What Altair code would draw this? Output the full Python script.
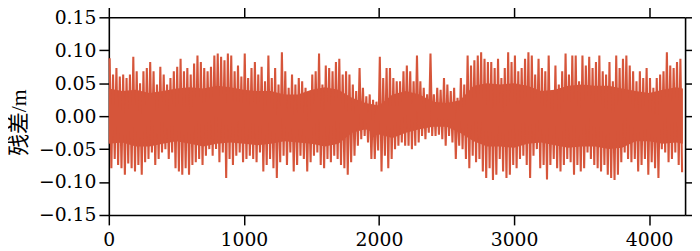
import altair as alt
import pandas as pd

# ---- data ----
# spike envelope, one hi/lo pair per 25-epoch bin
bin_width = 25
x_max = 4266

hi = [
    0.088, 0.063, 0.073, 0.060, 0.063, 0.058, 0.063, 0.090, 0.068, 0.050,
    0.068, 0.073, 0.082, 0.068, 0.048, 0.075, 0.063, 0.048, 0.058, 0.068,
    0.075, 0.087, 0.068, 0.073, 0.063, 0.080, 0.092, 0.082, 0.073,
    0.068, 0.075, 0.092, 0.095, 0.090, 0.085, 0.095, 0.092, 0.068, 0.077,
    0.060, 0.095, 0.058, 0.073, 0.082, 0.063, 0.075, 0.053, 0.092, 0.058,
    0.073, 0.048, 0.097, 0.068, 0.043, 0.063, 0.048, 0.058, 0.053,
    0.043, 0.038, 0.063, 0.068, 0.095, 0.048, 0.077, 0.073, 0.068, 0.082,
    0.087, 0.063, 0.068, 0.063, 0.048, 0.038, 0.073, 0.043, 0.030, 0.033,
    0.025, 0.022, 0.090, 0.058, 0.073, 0.073, 0.058, 0.053,
    0.053, 0.068, 0.077, 0.068, 0.053, 0.092, 0.053, 0.043, 0.033, 0.095,
    0.033, 0.043, 0.040, 0.058, 0.048, 0.038, 0.043, 0.028, 0.058, 0.048,
    0.092, 0.077, 0.085, 0.092, 0.097, 0.087, 0.082, 0.082, 0.073,
    0.087, 0.058, 0.073, 0.097, 0.082, 0.092, 0.068, 0.073, 0.087, 0.097,
    0.092, 0.063, 0.087, 0.073, 0.068, 0.092, 0.038, 0.077, 0.048, 0.068,
    0.095, 0.063, 0.092, 0.092, 0.053, 0.092, 0.077, 0.090,
    0.073, 0.082, 0.092, 0.068, 0.063, 0.082, 0.053, 0.092, 0.073, 0.087,
    0.092, 0.077, 0.068, 0.053, 0.068, 0.058, 0.073, 0.058, 0.043, 0.058,
    0.063, 0.068, 0.097, 0.077, 0.073, 0.082, 0.087,
]

lo = [
    -0.079, -0.065, -0.074, -0.079, -0.089, -0.072, -0.079, -0.084, -0.074, -0.089,
    -0.070, -0.065, -0.055, -0.074, -0.065, -0.055, -0.050, -0.065, -0.055, -0.079,
    -0.084, -0.089, -0.079, -0.089, -0.074, -0.070, -0.065, -0.074, -0.060,
    -0.050, -0.060, -0.050, -0.070, -0.055, -0.094, -0.065, -0.074, -0.060, -0.055,
    -0.070, -0.065, -0.060, -0.065, -0.070, -0.055, -0.084, -0.074, -0.065, -0.079,
    -0.094, -0.070, -0.060, -0.074, -0.055, -0.084, -0.074, -0.060, -0.065,
    -0.084, -0.070, -0.060, -0.055, -0.074, -0.079, -0.065, -0.070, -0.060, -0.065,
    -0.074, -0.079, -0.089, -0.070, -0.060, -0.045, -0.035, -0.030, -0.040, -0.065,
    -0.065, -0.052, -0.084, -0.060, -0.079, -0.065, -0.050, -0.045,
    -0.040, -0.045, -0.045, -0.050, -0.045, -0.040, -0.030, -0.035, -0.025, -0.030,
    -0.030, -0.028, -0.035, -0.045, -0.030, -0.040, -0.065, -0.045, -0.050, -0.065,
    -0.079, -0.060, -0.070, -0.065, -0.084, -0.094, -0.079, -0.097, -0.089,
    -0.065, -0.084, -0.094, -0.089, -0.074, -0.079, -0.065, -0.060, -0.074, -0.094,
    -0.060, -0.050, -0.079, -0.074, -0.096, -0.074, -0.065, -0.079, -0.084, -0.074,
    -0.065, -0.070, -0.089, -0.074, -0.084, -0.079, -0.055, -0.065,
    -0.074, -0.079, -0.084, -0.074, -0.089, -0.094, -0.097, -0.089, -0.070, -0.055,
    -0.065, -0.070, -0.065, -0.084, -0.074, -0.065, -0.089, -0.070, -0.079, -0.094,
    -0.050, -0.055, -0.070, -0.065, -0.055, -0.074, -0.085,
]

# dense (solid-looking) core of the residual band, every 100 epochs
core_t = [0, 100, 200, 300, 400, 500, 600, 700, 800, 900, 1000, 1100, 1200,
          1300, 1400, 1500, 1600, 1700, 1800, 1900, 2000, 2100, 2200, 2300,
          2400, 2500, 2600, 2700, 2800, 2900, 3000, 3100, 3200, 3300, 3400,
          3500, 3600, 3700, 3800, 3900, 4000, 4100, 4200, 4250]
core_hi = [0.042, 0.038, 0.040, 0.035, 0.038, 0.042, 0.044, 0.042, 0.046, 0.044,
           0.040, 0.038, 0.038, 0.033, 0.033, 0.040, 0.044, 0.040, 0.028, 0.020,
           0.016, 0.033, 0.038, 0.033, 0.022, 0.020, 0.024, 0.046, 0.050, 0.048,
           0.050, 0.046, 0.038, 0.040, 0.046, 0.048, 0.046, 0.046, 0.042, 0.038,
           0.035, 0.040, 0.044, 0.042]
core_lo = [-0.042, -0.040, -0.046, -0.046, -0.042, -0.038, -0.042, -0.046, -0.042,
           -0.040, -0.042, -0.044, -0.042, -0.038, -0.040, -0.042, -0.046, -0.042,
           -0.025, -0.020, -0.028, -0.033, -0.025, -0.020, -0.016, -0.016, -0.025,
           -0.038, -0.046, -0.046, -0.048, -0.042, -0.040, -0.044, -0.048, -0.046,
           -0.046, -0.050, -0.048, -0.038, -0.038, -0.042, -0.040, -0.042]

x_ticks = [0, 1000, 2000, 3000, 4000]
y_ticks = [-0.15, -0.10, -0.05, 0.0, 0.05, 0.10, 0.15]
y_title = "残差/m"

rows = []
for i, (h, l) in enumerate(zip(hi, lo)):
    rows.append({"t": i * bin_width + bin_width * 0.25, "v": h})
    rows.append({"t": i * bin_width + bin_width * 0.75, "v": l})
df = pd.DataFrame(rows)
core_df = pd.DataFrame({"t": core_t, "hi": core_hi, "lo": core_lo})

RED = "#d6553a"
FONT = "DejaVu Serif"
TITLE_FONT = "Liberation Serif, Noto Sans CJK SC"

xscale = alt.Scale(domain=[0, x_max], nice=False, zero=False)
yscale = alt.Scale(domain=[-0.15, 0.15], nice=False)

common = dict(
    domainColor="black", domainWidth=1.6, tickColor="black", tickWidth=1.5,
    tickSize=10, grid=False, labelFont=FONT, labelFontSize=19,
    labelColor="black", labelFlush=False, labelOverlap=False,
)

core = alt.Chart(core_df).mark_area(color=RED, opacity=1).encode(
    x=alt.X("t:Q", scale=xscale,
            axis=alt.Axis(values=x_ticks, format="d", title=None,
                          labelPadding=6, **common)),
    y=alt.Y("lo:Q", scale=yscale,
            axis=alt.Axis(values=y_ticks, format=".2f", title=y_title,
                          titleFont=TITLE_FONT, titleFontSize=22,
                          titleFontWeight="normal", titleColor="black",
                          titleX=-79, titleY=106, titleAngle=270,
                          titleAlign="center", titleBaseline="bottom",
                          labelPadding=3, **common)),
    y2="hi:Q",
)

line = alt.Chart(df).mark_line(color=RED, strokeWidth=2.1, strokeJoin="bevel").encode(
    x=alt.X("t:Q", scale=xscale, axis=None),
    y=alt.Y("v:Q", scale=yscale, axis=None),
)

frame = alt.Chart(df).mark_line(opacity=0).encode(
    x=alt.X("t:Q", scale=xscale,
            axis=alt.Axis(orient="top", values=x_ticks, labels=False,
                          title=None, **common)),
    y=alt.Y("v:Q", scale=yscale,
            axis=alt.Axis(orient="right", values=y_ticks, labels=False,
                          title=None, **common)),
)

chart = (
    alt.layer(core, line, frame)
    .resolve_axis(x="independent", y="independent")
    .properties(
        width=583, height=200,
        autosize=alt.AutoSizeParams(type="none"),
        padding={"left": 102, "top": 8, "right": 7, "bottom": 35},
        background="white",
    )
    .configure_view(stroke=None)
)

chart.save("out.html", embed_options={"renderer": "svg", "actions": False})
